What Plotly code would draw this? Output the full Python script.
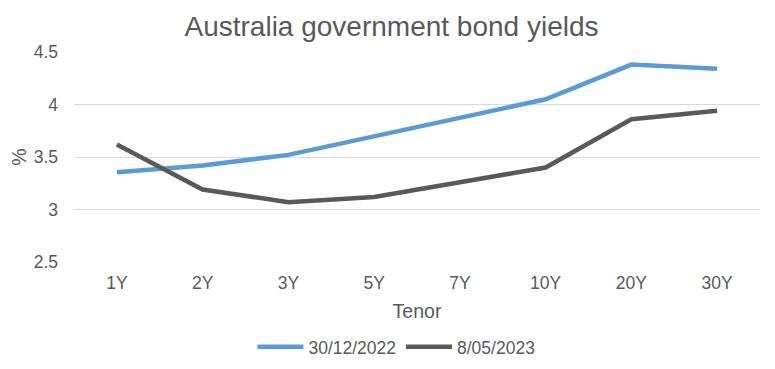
import plotly.graph_objects as go

tenors = ["1Y", "2Y", "3Y", "5Y", "7Y", "10Y", "20Y", "30Y"]
yields_2022 = [3.355, 3.42, 3.52, 3.70, 3.87, 4.05, 4.38, 4.34]
yields_2023 = [3.62, 3.19, 3.07, 3.12, 3.26, 3.40, 3.86, 3.94]
series_names = ["30/12/2022", "8/05/2023"]
series_colors = ["#5B9BD5", "#595959"]

font_family = "Liberation Sans, Arial, sans-serif"
text_color = "#595959"

fig = go.Figure()
for name, vals, col in zip(series_names, [yields_2022, yields_2023], series_colors):
    fig.add_trace(go.Scatter(
        x=tenors, y=vals, name=name, mode="lines",
        line=dict(color=col, width=4.5),
    ))

# The page body has an 8px default margin, so the figure is sized to fit the window.
fig.update_layout(
    width=767, height=361,
    margin=dict(l=66, r=15, t=44, b=107),
    paper_bgcolor="white", plot_bgcolor="white",
    font=dict(family=font_family, color=text_color, size=17.5),
    title=dict(text="Australia government bond yields", x=0.5, xanchor="center",
               xref="container", yref="container",
               y=0.978, yanchor="top",
               font=dict(size=28, color=text_color, family=font_family)),
    xaxis=dict(title=dict(text="Tenor", font=dict(size=19.5), standoff=12),
               automargin=False,
               range=[-0.5, 7.5],
               showgrid=False, showline=False, ticks="",
               ticklabelstandoff=8,
               tickfont=dict(size=17.5)),
    yaxis=dict(title=dict(text="%", font=dict(size=19.5), standoff=2),
               automargin=False,
               range=[2.5, 4.5], dtick=0.5,
               showgrid=True, gridcolor="#D9D9D9", gridwidth=1.3,
               zeroline=False, showline=False, ticks="",
               ticklabelstandoff=15,
               tickfont=dict(size=17.5)),
    legend=dict(orientation="h", x=0.47, xanchor="center",
                yref="container", y=0.061, yanchor="middle",
                itemwidth=46,
                font=dict(size=17.5, color=text_color)),
    showlegend=True,
)

fig.write_html("out.html")
